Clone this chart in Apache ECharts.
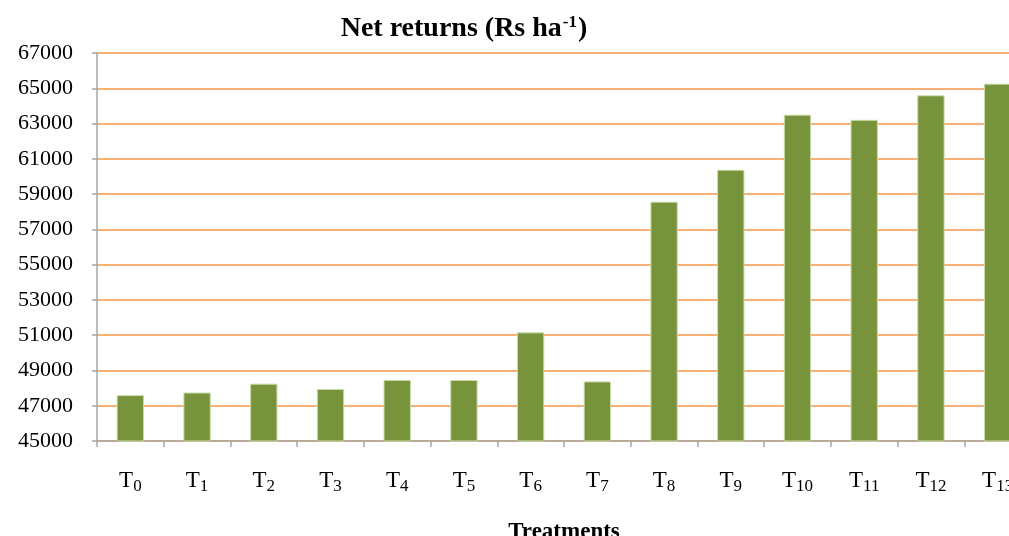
<!DOCTYPE html>
<html>
<head>
<meta charset="utf-8">
<script src="https://cdn.jsdelivr.net/npm/echarts@6/dist/echarts.min.js"></script>
<style>
  html, body { margin: 0; padding: 0; background: #fff; }
  #main { width: 1009px; height: 536px; }
</style>
</head>
<body>
<div id="main"></div>
<script>
// data
var treatments = ['0', '1', '2', '3', '4', '5', '6', '7', '8', '9', '10', '11', '12', '13'];
var netReturns = [47600, 47750, 48250, 47950, 48460, 48460, 51160, 48380, 58570, 60380, 63500, 63210, 64600, 65260];
var yMin = 45000, yMax = 67000, yStep = 2000;

var serif = '"Liberation Serif", "DejaVu Serif", serif';

var myChart = echarts.init(document.getElementById('main'));

var option = {
    backgroundColor: '#ffffff',
    animation: false,
    title: {
        text: '{a|Net returns (Rs ha}{sup|-1}{a|)}',
        left: 459,
        textAlign: 'center',
        top: 9,
        textStyle: {
            rich: {
                a: { fontFamily: serif, fontSize: 28, fontWeight: 'bold', color: '#000' },
                sup: { fontFamily: serif, fontSize: 17, fontWeight: 'bold', color: '#000', verticalAlign: 'top', padding: [0, 1, 12, 1] }
            }
        }
    },
    grid: {
        left: 97,
        right: -22,
        top: 53,
        bottom: 95,
        outerBoundsMode: 'none'
    },
    xAxis: {
        type: 'category',
        data: treatments,
        boundaryGap: true,
        name: 'Treatments',
        nameLocation: 'middle',
        nameGap: 80,
        nameTextStyle: { fontFamily: serif, fontSize: 23, fontWeight: 'bold', color: '#000' },
        axisLine: { lineStyle: { color: '#a6a6a6', width: 1.5 } },
        axisTick: { show: true, alignWithLabel: false, length: 6, lineStyle: { color: '#a6a6a6', width: 1.5 } },
        axisLabel: {
            interval: 0,
            margin: 28,
            formatter: function (v) { return '{t|T}{s|' + v + '}'; },
            rich: {
                t: { fontFamily: serif, fontSize: 23, color: '#000', verticalAlign: 'top', lineHeight: 24 },
                s: { fontFamily: serif, fontSize: 17, color: '#000', verticalAlign: 'top', lineHeight: 17, padding: [9, 0, 0, 0] }
            }
        },
        splitLine: { show: false }
    },
    yAxis: {
        type: 'value',
        min: yMin,
        max: yMax,
        interval: yStep,
        axisLine: { show: true, lineStyle: { color: '#a6a6a6', width: 1.5 } },
        axisTick: { show: true, length: 5, lineStyle: { color: '#a6a6a6', width: 1.5 } },
        axisLabel: {
            margin: 24,
            fontFamily: serif,
            fontSize: 22,
            color: '#000',
            formatter: function (v) { return String(v); }
        },
        splitLine: { show: true, lineStyle: { color: '#f79646', width: 1.6 } }
    },
    series: [{
        type: 'bar',
        data: netReturns,
        barWidth: '41%',
        itemStyle: {
            color: '#77933c',
            borderColor: '#c9dba6',
            borderWidth: 1
        }
    }]
};

myChart.setOption(option);
</script>
</body>
</html>
